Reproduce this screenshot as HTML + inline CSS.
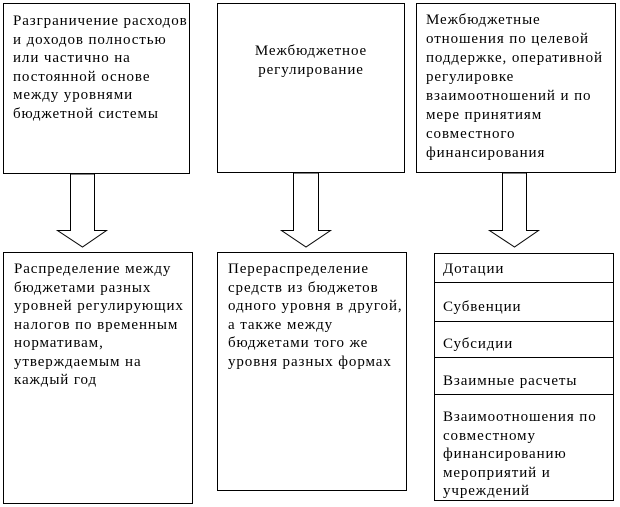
<!DOCTYPE html>
<html><head><meta charset="utf-8"><style>
body{margin:0;width:620px;height:507px;background:#fff;position:relative;overflow:hidden;font-family:"Liberation Serif","DejaVu Serif",serif;font-size:15px;letter-spacing:0.9px;color:#000}
.b{position:absolute;border:1px solid #000;box-sizing:border-box;line-height:18.5px}
.t{position:absolute;left:8px;white-space:nowrap}
</style></head><body>
<div class="b" style="left:3px;top:3px;width:187px;height:171px;padding:8px 0 0 9px">Разграничение расходов<br>и доходов полностью<br>или частично на<br>постоянной основе<br>между уровнями<br>бюджетной системы</div>
<div class="b" style="left:217px;top:3px;width:188px;height:170px;padding:38px 0 0;text-align:center">Межбюджетное<br>регулирование</div>
<div class="b" style="left:416px;top:3px;width:200px;height:170px;padding:7px 0 0 9px;line-height:19px">Межбюджетные<br>отношения по целевой<br>поддержке, оперативной<br>регулировке<br>взаимоотношений и по<br>мере принятиям<br>совместного<br>финансирования</div>
<div class="b" style="left:3px;top:252px;width:190px;height:252px;padding:7px 0 0 10px">Распределение между<br>бюджетами разных<br>уровней регулирующих<br>налогов по временным<br>нормативам,<br>утверждаемым на<br>каждый год</div>
<div class="b" style="left:217px;top:252px;width:190px;height:239px;padding:7px 0 0 10px">Перераспределение<br>средств из бюджетов<br>одного уровня в другой,<br>а также между<br>бюджетами того же<br>уровня разных формах</div>
<div class="b" style="left:434px;top:253px;width:180px;height:248px">
<div class="t" style="top:6px">Дотации</div>
<div class="t" style="top:44px">Субвенции</div>
<div class="t" style="top:81px">Субсидии</div>
<div class="t" style="top:118px">Взаимные расчеты</div>
<div class="t" style="top:154px;line-height:18.5px">Взаимоотношения по<br>совместному<br>финансированию<br>мероприятий и<br>учреждений</div>
</div>
<svg width="620" height="507" style="position:absolute;left:0;top:0" fill="#fff" stroke="#000" stroke-width="1">
<line x1="434" y1="282.5" x2="614" y2="282.5"/>
<line x1="434" y1="321.5" x2="614" y2="321.5"/>
<line x1="434" y1="357.5" x2="614" y2="357.5"/>
<line x1="434" y1="394.5" x2="614" y2="394.5"/>
<polygon points="70.5,174 94.5,174 94.5,230.5 106.5,230.5 82.5,247 57.5,230.5 70.5,230.5"/>
<polygon points="293.5,173 318.5,173 318.5,230.5 330.5,230.5 306,247 281.5,230.5 293.5,230.5"/>
<polygon points="502.5,173 526.5,173 526.5,230.5 538.5,230.5 514.5,247 489.5,230.5 502.5,230.5"/>
</svg>
</body></html>
